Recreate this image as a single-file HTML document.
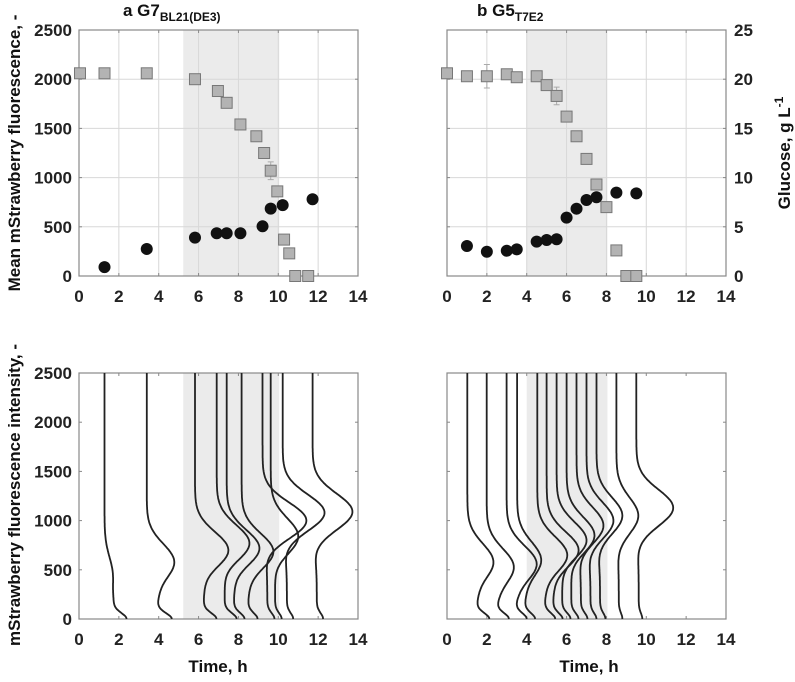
<!DOCTYPE html>
<html><head><meta charset="utf-8"><style>
html,body{margin:0;padding:0;background:#fff;}
svg{display:block;font-family:"Liberation Sans",Arial,sans-serif;}
.tk{font-size:17px;font-weight:bold;fill:#222;}
</style></head><body>
<svg id="fig" width="795" height="682" viewBox="0 0 795 682" xmlns="http://www.w3.org/2000/svg">
<g id="root"></g>
</svg>
<script>
// ---- data ----
const xTicks = [0,2,4,6,8,10,12,14];
const yTicks = [0,500,1000,1500,2000,2500];
const gTicks = [0,5,10,15,20,25];
// panel a (top)
const aFluorT = [1.28,3.4,5.82,6.91,7.41,8.1,9.21,9.62,10.22,11.72];
const aFluorV = [90,275,390,435,435,435,505,685,720,780];
const aGlcT = [0.05,1.28,3.4,5.82,6.97,7.41,8.1,8.9,9.29,9.62,9.95,10.29,10.55,10.85,11.5];
const aGlcV = [20.6,20.6,20.6,20.0,18.8,17.6,15.4,14.2,12.5,10.7,8.6,3.7,2.3,0,0];
const aGlcErr = [0,0,0,0,0,0,0,0,0,0.9,0,0,0,0,0];
const aShade = [5.23,10.05];
// panel b (top)
const bFluorT = [1,2,3,3.5,4.5,5,5.5,6,6.5,7,7.5,8.5,9.5];
const bFluorV = [305,247,257,271,349,366,373,593,684,772,800,847,840];
const bGlcT = [0,1,2,3,3.5,4.5,5,5.5,6,6.5,7,7.5,8,8.5,9,9.5];
const bGlcV = [20.6,20.3,20.3,20.5,20.2,20.3,19.4,18.3,16.2,14.2,11.9,9.3,7.0,2.6,0,0];
const bGlcErr = [0,0,1.2,0,0,0.3,0,0.9,0,0,0,0,0,0,0,0];
const bShade = [4.0,8.05];
// distributions (bottom)
const aDistT = [1.28,3.4,5.82,6.91,7.41,8.16,9.21,9.62,10.22,11.72];
const aDistAmp = [0.4,1.37,1.67,1.64,1.64,1.59,2.2,1.38,2.1,2.0];
const aDistPeak = [450,580,700,770,720,685,1000,840,1080,1090];
const aDistTail = [1.1,1.25,1.08,1.0,0.9,0.8,0.6,0.55,0.53,0.53];
const bDistT = [1.02,1.99,2.99,3.52,4.53,5.0,5.5,6.0,6.5,7.0,7.5,8.5,9.5];
const bDistAmp = [1.3,1.35,1.5,1.2,1.5,1.6,1.5,1.4,1.35,1.35,1.3,1.1,1.85];
const bDistPeak = [580,530,560,600,650,700,800,850,950,1000,1050,1050,1130];
const bDistTail = [1.1,1.1,1.0,0.9,0.9,0.8,0.7,0.6,0.55,0.5,0.45,0.3,0.3];

const NS="http://www.w3.org/2000/svg";
const root=document.getElementById('root');
function mk(tag,attrs,parent){const e=document.createElementNS(NS,tag);for(const k in attrs)e.setAttribute(k,attrs[k]);(parent||root).appendChild(e);return e;}

function panel(x0,y0,name){
  const w=279,h=246;
  return {x0,y0,w,h,name,
    sx:t=>x0+t/14*w, sy:v=>y0+h-v/2500*h, sg:v=>y0+h-v/25*h};
}
function frame(p,opts){
  const g=mk('g',{});
  
  
  const sh=mk('rect',{x:p.sx(opts.shade[0]),y:p.y0,width:p.sx(opts.shade[1])-p.sx(opts.shade[0]),height:p.h,fill:'#ebebeb'},g);
  
  
  if(opts.grid){
    xTicks.forEach(t=>{const l=mk('line',{x1:p.sx(t),x2:p.sx(t),y1:p.y0,y2:p.y0+p.h,stroke:'#d8d8d8','stroke-width':1},g);
      });
    yTicks.forEach(v=>{const l=mk('line',{x1:p.x0,x2:p.x0+p.w,y1:p.sy(v),y2:p.sy(v),stroke:'#d8d8d8','stroke-width':1},g);
      });
  }
  xTicks.forEach(t=>{mk('line',{x1:p.sx(t),x2:p.sx(t),y1:p.y0+p.h,y2:p.y0+p.h-3,stroke:'#888'},g);mk('line',{x1:p.sx(t),x2:p.sx(t),y1:p.y0,y2:p.y0+3,stroke:'#888'},g);});
  yTicks.forEach(v=>{mk('line',{x1:p.x0,x2:p.x0+3,y1:p.sy(v),y2:p.sy(v),stroke:'#888'},g);mk('line',{x1:p.x0+p.w,x2:p.x0+p.w-3,y1:p.sy(v),y2:p.sy(v),stroke:'#888'},g);});
  const fr=mk('rect',{x:p.x0,y:p.y0,width:p.w,height:p.h,fill:'none',stroke:'#888','stroke-width':1.2},g);
  
  xTicks.forEach(t=>{const tx=mk('text',{x:p.sx(t),y:p.y0+p.h+26,'text-anchor':'middle',class:'tk'},g);tx.textContent=t;
    });
  if(opts.yLabels){yTicks.forEach(v=>{const tx=mk('text',{x:p.x0-7,y:p.sy(v)+6,'text-anchor':'end',class:'tk'},g);tx.textContent=v;
    });}
  if(opts.gLabels){gTicks.forEach(v=>{const tx=mk('text',{x:p.x0+p.w+8,y:p.sg(v)+6,'text-anchor':'start',class:'tk'},g);tx.textContent=v;
    });}
  return g;
}
function scatter(p,g,fT,fV,gT,gV,gE){
  gT.forEach((t,i)=>{
    if(gE[i]>0){const x=p.sx(t);const e=mk('path',{d:`M${x},${p.sg(gV[i]-gE[i])}V${p.sg(gV[i]+gE[i])}M${x-3},${p.sg(gV[i]-gE[i])}h6M${x-3},${p.sg(gV[i]+gE[i])}h6`,stroke:'#aaa','stroke-width':1,fill:'none'},g);
      }
    const r=mk('rect',{x:p.sx(t)-5.5,y:p.sg(gV[i])-5.5,width:11,height:11,fill:'#b3b3b3',stroke:'#777','stroke-width':1},g);
    
  });
  fT.forEach((t,i)=>{const c=mk('circle',{cx:p.sx(t),cy:p.sy(fV[i]),r:6,fill:'#111'},g);
    });
}
function dists(p,g,T,A,C,Tail){
  T.forEach((t,i)=>{
    let d='';
    for(let y=2500;y>=0;y-=10){
      const gau=Math.exp(-Math.pow((y-C[i])/260,2));
      const low=1/(1+Math.exp((y-C[i]*0.55)/70));
      const foot=Math.exp(-Math.pow(y/85,2));
      const x=t+A[i]*gau+Tail[i]*(0.4*low+0.6*foot);
      d+=(d?'L':'M')+p.sx(x).toFixed(1)+','+p.sy(y).toFixed(1);
    }
    const l=mk('path',{d,fill:'none',stroke:'#222','stroke-width':1.8},g);
    
  });
}
const pa=panel(79,30,'panel-a-top'), pb=panel(447,30,'panel-b-top');
const pc=panel(79,373,'panel-a-bottom'), pd=panel(447,373,'panel-b-bottom');
const ga=frame(pa,{shade:aShade,grid:true,yLabels:true});
scatter(pa,ga,aFluorT,aFluorV,aGlcT,aGlcV,aGlcErr);
const gb=frame(pb,{shade:bShade,grid:true,gLabels:true});
scatter(pb,gb,bFluorT,bFluorV,bGlcT,bGlcV,bGlcErr);
const gc=frame(pc,{shade:aShade,grid:false,yLabels:true});
dists(pc,gc,aDistT,aDistAmp,aDistPeak,aDistTail);
const gd=frame(pd,{shade:bShade,grid:false});
dists(pd,gd,bDistT,bDistAmp,bDistPeak,bDistTail);
</script>
<svg style="position:absolute;left:0;top:0" width="795" height="682">
<text x="123" y="16" font-size="17" font-weight="bold" fill="#111">a G7<tspan font-size="12" dy="5">BL21(DE3)</tspan></text>
<text x="477" y="16" font-size="17" font-weight="bold" fill="#111">b  G5<tspan font-size="12" dy="5">T7E2</tspan></text>
<text transform="translate(20,153) rotate(-90)" text-anchor="middle" font-size="17" font-weight="bold" fill="#111">Mean mStrawberry fluorescence, -</text>
<text transform="translate(20,495) rotate(-90)" text-anchor="middle" font-size="17" font-weight="bold" fill="#111">mStrawberry fluorescence intensity, -</text>
<text transform="translate(790,153) rotate(-90)" text-anchor="middle" font-size="17" font-weight="bold" fill="#111">Glucose, g L<tspan font-size="12" dy="-7">-1</tspan></text>
<text x="218" y="672" text-anchor="middle" font-size="17" font-weight="bold" fill="#111">Time, h</text>
<text x="589" y="672" text-anchor="middle" font-size="17" font-weight="bold" fill="#111">Time, h</text>
</svg>
</body></html>
